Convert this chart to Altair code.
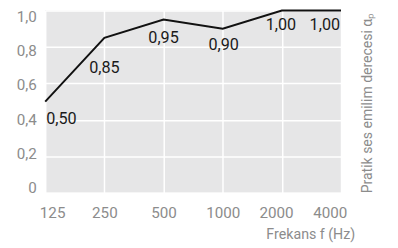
import altair as alt
import pandas as pd

freqs = [125, 250, 500, 1000, 2000, 4000]
values = [0.50, 0.85, 0.95, 0.90, 1.00, 1.00]
y_ticks = [0, 0.2, 0.4, 0.6, 0.8, 1.0]
x_title = "Frekans f (Hz)"
y_title = "Pratik ses emilim derecesi αₚ"

df = pd.DataFrame({"f": freqs, "v": values, "i": list(range(len(freqs)))})

W, H = 302, 186
FONT = "Roboto"
GRAY = "#8c8c8c"

x_scale = alt.Scale(type="log", base=2, domain=[125, 4000], nice=False)
y_scale = alt.Scale(domain=[0, 1], nice=False)

x_axis = alt.Axis(
    values=freqs, format="d", grid=True, gridColor="white", gridWidth=1.5,
    domain=False, ticks=False, labelFont=FONT, labelFontSize=15.5, labelColor=GRAY,
    labelPadding=13, labelFlush=True, labelFlushOffset=6,
    labelOffset={"expr": "datum.value == 2000 ? -6 : 0"},
    title=x_title, titleFont=FONT, titleFontSize=14.5, titleFontWeight="normal",
    titleColor=GRAY, titleX=316, titleY=43, titleAlign="right", titleBaseline="middle",
)
y_axis = alt.Axis(
    values=y_ticks, grid=True, gridColor="white", gridWidth=1.5,
    domain=False, ticks=False, labelFont=FONT, labelFontSize=15.5, labelColor=GRAY,
    labelPadding=9, labelBaseline="middle",
    labelOffset={"expr": "(datum.value - 0.45) * 11"},
    labelExpr="datum.value == 0 ? '0' : replace(format(datum.value, '.1f'), '.', ',')",
    title=y_title, titleFont=FONT, titleFontSize=14.3, titleFontWeight="normal",
    titleColor=GRAY, titleAngle=270, titleX=W + 27, titleY=H / 2 + 1,
    titleAlign="center", titleBaseline="middle",
)

base = alt.Chart(df).encode(
    x=alt.X("f:Q", scale=x_scale, axis=x_axis),
    y=alt.Y("v:Q", scale=y_scale, axis=y_axis),
)

line = base.mark_line(color="#111111", strokeWidth=2)

label_styles = [
    (0, "left", 1, 18),
    (1, "center", 0, 31),
    (2, "center", 0, 19),
    (3, "center", 1, 17),
    (4, "center", -1, 15),
    (5, "right", -1, 15),
]

layers = [line]
for idx, align, dx, dy in label_styles:
    layers.append(
        base.transform_filter(alt.datum.i == idx)
        .transform_calculate(lbl="replace(format(datum.v, '.2f'), '.', ',')")
        .mark_text(align=align, baseline="middle", dx=dx, dy=dy, font=FONT,
                   fontSize=16.5, color="#1a1a1a")
        .encode(text="lbl:N")
    )

chart = alt.layer(*layers).properties(
    width=W, height=H,
    autosize=alt.AutoSizeParams(type="none"),
    padding={"left": 38, "top": 0, "right": 50, "bottom": 54},
).configure_view(fill="#e6e6e7", stroke=None)

chart.save("out.html", embed_options={"renderer": "svg", "actions": False})
